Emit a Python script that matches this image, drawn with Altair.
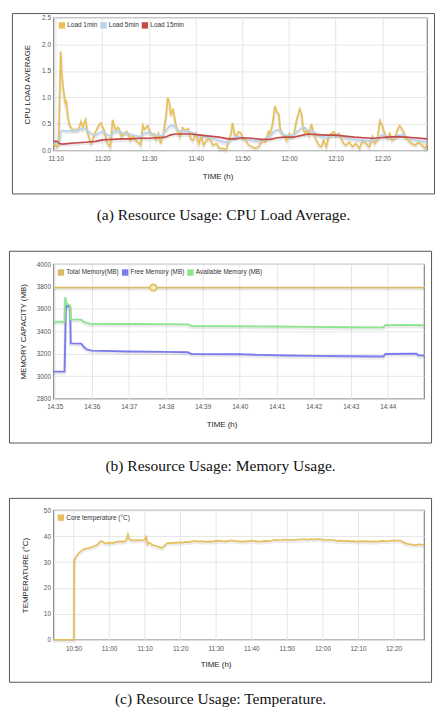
import altair as alt
import pandas as pd

SANS = "Liberation Sans"
SERIF = "Liberation Serif"

# ---------------- (a) CPU load average (minutes after 11:10) ----------------
cpu_series = ["Load 1min", "Load 5min", "Load 15min"]
cpu_colors = ["#e8c15b", "#b9d3ec", "#c44b48"]

load1_t = [-0.45, -0.1, 0.3, 0.6, 0.85, 1.06, 1.3, 1.55, 1.8, 2.05, 2.27, 2.6, 3.0, 3.4, 3.7, 4.2, 4.7,
           5.1, 5.4, 5.8, 6.1, 6.4, 6.9, 7.3, 7.6, 8.0, 8.3, 8.7, 9.0, 9.4, 9.7, 10.0, 10.4, 10.8, 11.1,
           11.7, 12.0, 12.2, 12.5, 12.9, 13.3, 13.6, 14.1, 14.5, 14.8, 15.2, 15.5, 16.0, 16.4, 16.7, 17.1,
           17.5, 17.9, 18.2, 18.5, 18.7, 19.0, 19.2, 19.5, 19.7, 20.0, 20.3, 20.7, 21.0, 21.5, 22.0, 22.5,
           22.8, 23.1, 23.4, 23.7, 24.0, 24.2, 24.4, 24.7, 25.1, 25.4, 25.6, 26.1, 26.6, 26.9, 27.2, 27.7,
           28.1, 28.4, 28.9, 29.4, 30.1, 30.7, 31.2, 31.7, 32.3, 33.0, 33.7, 34.4, 35.1, 35.8, 36.5, 37.1,
           37.6, 37.9, 38.3, 38.6, 39.2, 39.7, 40.0, 40.7, 41.4, 42.1, 42.8, 43.5, 44.2, 44.9, 45.6, 45.9,
           46.5, 47.0, 47.4, 47.8, 48.1, 48.6, 49.2, 49.5, 50.1, 50.6, 51.1, 51.6, 52.3, 52.7, 53.0, 53.4,
           53.9, 54.3, 54.8, 55.3, 55.9, 56.4, 56.9, 57.4, 58.0, 58.6, 59.1, 59.6, 60.1, 60.7, 61.2, 61.7,
           62.2, 62.9, 63.6, 64.3, 65.1, 65.8, 66.5, 67.2, 67.9, 68.4, 68.9, 69.5, 70.0, 70.5, 71.1, 71.6,
           72.1, 72.7, 73.2, 73.7, 74.2, 74.7, 75.1, 75.6, 76.3, 77.1, 77.8, 78.5, 79.2, 79.6]
load1_v = [0.12, 0.10, 0.06, 0.12, 1.00, 1.87, 1.45, 1.20, 1.05, 0.90, 0.95, 0.63, 0.47, 0.42, 0.38, 0.40, 0.38,
           0.45, 0.54, 0.44, 0.52, 0.58, 0.32, 0.20, 0.13, 0.22, 0.32, 0.38, 0.44, 0.50, 0.52, 0.45, 0.38, 0.22, 0.13,
           0.07, 0.35, 0.58, 0.48, 0.38, 0.44, 0.41, 0.26, 0.30, 0.32, 0.36, 0.32, 0.19, 0.27, 0.26, 0.20,
           0.16, 0.14, 0.10, 0.35, 0.47, 0.40, 0.41, 0.45, 0.47, 0.40, 0.35, 0.30, 0.32, 0.21, 0.32, 0.13,
           0.25, 0.32, 0.50, 0.69, 1.00, 0.95, 0.88, 0.66, 0.79, 0.65, 0.54, 0.38, 0.26, 0.35, 0.43, 0.38,
           0.40, 0.41, 0.23, 0.19, 0.32, 0.13, 0.26, 0.10, 0.19, 0.23, 0.10, 0.13, 0.04, 0.04, 0.01, 0.19,
           0.32, 0.52, 0.32, 0.26, 0.35, 0.33, 0.26, 0.19, 0.10, 0.07, 0.04, 0.07, 0.19, 0.16, 0.35, 0.29,
           0.50, 0.84, 0.72, 0.69, 0.41, 0.32, 0.26, 0.19, 0.32, 0.26, 0.32, 0.56, 0.78, 0.69, 0.44, 0.32,
           0.38, 0.29, 0.50, 0.32, 0.19, 0.10, 0.07, 0.19, 0.07, 0.29, 0.32, 0.35, 0.29, 0.32, 0.23, 0.13,
           0.10, 0.16, 0.07, 0.13, 0.04, 0.19, 0.13, 0.07, 0.26, 0.13, 0.19, 0.56, 0.47, 0.32, 0.23, 0.32,
           0.19, 0.23, 0.38, 0.47, 0.41, 0.32, 0.23, 0.19, 0.13, 0.10, 0.16, 0.10, 0.04, 0.13]

load5_t = [-0.45, 0.8, 1.1, 1.5, 2.5, 3.5, 4.5, 5.5, 6.3, 7.0, 8.0, 8.6, 9.5, 10.2, 11.0, 11.8, 12.5, 13.0,
           14.0, 15.0, 16.0, 17.0, 18.2, 19.0, 20.0, 21.0, 22.0, 22.8, 23.5, 24.2, 25.0, 25.8, 26.5, 27.5,
           28.5, 29.5, 30.5, 31.5, 32.5, 33.5, 34.5, 35.5, 36.5, 37.2, 38.0, 39.0, 40.0, 41.0, 42.0, 43.0,
           44.0, 45.0, 46.0, 46.8, 47.5, 48.3, 49.0, 50.0, 51.0, 51.8, 52.6, 53.3, 54.0, 55.0, 56.0, 57.0,
           58.0, 59.0, 60.0, 61.0, 62.0, 63.0, 64.0, 65.0, 66.0, 67.0, 68.0, 69.0, 69.8, 70.5, 71.5, 72.5,
           73.5, 74.3, 75.0, 76.0, 77.0, 78.0, 79.0, 79.6]
load5_v = [0.15, 0.13, 0.36, 0.38, 0.36, 0.38, 0.38, 0.41, 0.42, 0.36, 0.30, 0.29, 0.34, 0.36, 0.30, 0.27, 0.36, 0.38,
           0.34, 0.33, 0.31, 0.28, 0.26, 0.32, 0.34, 0.31, 0.29, 0.28, 0.36, 0.45, 0.48, 0.43, 0.37, 0.37,
           0.36, 0.33, 0.29, 0.27, 0.25, 0.23, 0.20, 0.17, 0.15, 0.17, 0.24, 0.26, 0.25, 0.22, 0.20, 0.18,
           0.18, 0.22, 0.28, 0.36, 0.39, 0.35, 0.30, 0.28, 0.28, 0.36, 0.42, 0.44, 0.38, 0.37, 0.31, 0.26,
           0.24, 0.28, 0.29, 0.29, 0.25, 0.22, 0.21, 0.19, 0.19, 0.18, 0.19, 0.22, 0.29, 0.29, 0.25, 0.24,
           0.29, 0.30, 0.27, 0.22, 0.20, 0.18, 0.16, 0.17]

load15_t = [-0.45, 0.3, 0.8, 1.5, 2.5, 4.0, 5.5, 7.0, 8.5, 10.0, 12.0, 14.0, 16.0, 18.0, 20.0, 22.0, 23.5,
            24.5, 25.5, 27.0, 29.0, 31.0, 33.0, 35.0, 37.0, 38.5, 40.0, 42.0, 44.0, 46.0, 47.5, 49.0, 51.0,
            52.5, 54.0, 56.0, 58.0, 60.0, 62.0, 64.0, 66.0, 68.0, 69.5, 71.0, 73.0, 75.0, 77.0, 79.6]
load15_v = [0.17, 0.17, 0.13, 0.12, 0.13, 0.14, 0.15, 0.16, 0.17, 0.20, 0.21, 0.22, 0.22, 0.23, 0.23, 0.24, 0.25,
            0.29, 0.31, 0.31, 0.31, 0.29, 0.27, 0.25, 0.22, 0.22, 0.24, 0.23, 0.21, 0.21, 0.24, 0.25, 0.25,
            0.28, 0.31, 0.30, 0.29, 0.29, 0.27, 0.25, 0.24, 0.23, 0.24, 0.25, 0.26, 0.25, 0.24, 0.22]

cpu_ticks = [0, 0.5, 1.0, 1.5, 2.0, 2.5]

# ---------------- (b) Memory (minutes after 14:35) ----------------
mem_series = ["Total Memory(MB)", "Free Memory (MB)", "Available Memory (MB)"]
mem_colors = ["#d8bb6a", "#7b7bef", "#8fe48f"]

total_t = [-0.04, 9.98]
total_v = [3790, 3790]

free_t = [-0.04, 0.27, 0.30, 0.33, 0.38, 0.41, 0.43, 0.72, 0.78, 0.86, 1.0, 2.0, 3.0, 3.6, 3.7, 5.0, 5.5,
          6.3, 7.0, 8.0, 8.88, 8.93, 9.5, 9.78, 9.82, 9.98]
free_v = [3040, 3040, 3600, 3628, 3622, 3610, 3292, 3290, 3262, 3238, 3228, 3220, 3217, 3213, 3197, 3196, 3190,
          3184, 3181, 3178, 3175, 3198, 3200, 3200, 3186, 3184]

avail_t = [-0.04, 0.27, 0.29, 0.32, 0.36, 0.41, 0.43, 0.72, 0.80, 0.95, 2.0, 3.0, 3.6, 3.7, 5.0, 6.0, 7.0,
           8.0, 8.88, 8.93, 9.5, 9.98]
avail_v = [3485, 3485, 3705, 3650, 3638, 3630, 3507, 3505, 3482, 3468, 3465, 3464, 3462, 3447, 3445, 3443, 3440,
           3437, 3435, 3456, 3458, 3454]

marker_t = [2.67]
marker_v = [3790]

mem_ticks = [2800, 3000, 3200, 3400, 3600, 3800, 4000]

# ---------------- (c) Temperature (minutes after 10:50) ----------------
temp_series = ["Core temperature (°C)"]
temp_colors = ["#e6c05c"]

temp_t = [-5.65, 0.1, 0.2, 0.5, 0.9, 1.4, 1.9, 2.5, 3.2, 4.0, 4.6, 5.3, 6.0, 6.6, 7.0, 7.4, 7.7, 8.3, 8.8,
          9.3, 10.2, 11.1, 12.0, 13.0, 14.0, 14.7, 15.0, 15.3, 15.6, 15.8, 16.7, 17.6, 18.6, 19.6, 20.1,
          20.4, 20.6, 20.8, 21.3, 21.8, 22.3, 23.0, 23.7, 24.6, 25.1, 25.5, 26.0, 26.4, 27.1, 27.8, 28.7,
          29.7, 30.6, 31.5, 32.4, 33.3, 34.3, 35.2, 36.1, 37.1, 38.0, 39.0, 39.9, 40.8, 41.8, 42.7, 43.6,
          44.5, 45.5, 46.4, 47.3, 48.2, 49.2, 50.1, 51.0, 52.0, 52.9, 53.8, 54.8, 55.7, 56.6, 57.5, 58.4,
          59.4, 60.3, 61.2, 62.2, 63.1, 64.0, 64.9, 65.9, 66.8, 67.7, 68.6, 69.6, 70.5, 71.4, 72.3, 73.3,
          74.2, 75.1, 76.1, 77.0, 77.9, 78.8, 79.8, 80.7, 81.6, 82.5, 83.5, 84.4, 85.3, 86.2, 87.2, 88.1,
          89.1, 90.0, 90.9, 91.8, 92.4, 92.8, 93.5, 94.2, 95.1, 95.8, 96.5, 97.3, 98.0, 98.6]
temp_v = [0, 0, 30.8, 31.5, 32.5, 33.3, 34.0, 34.6, 35.2, 35.3, 35.6, 35.8, 36.3, 36.6, 37.1, 37.8, 38.1, 37.8, 37.3,
          37.2, 37.5, 37.4, 37.8, 38.0, 37.9, 38.2, 39.0, 40.6, 39.2, 38.8, 38.3, 38.5, 38.4, 38.5, 38.6,
          40.2, 38.2, 36.9, 37.6, 37.0, 36.6, 36.3, 36.0, 35.5, 35.7, 36.2, 36.9, 37.3, 37.3, 37.5, 37.4,
          37.6, 37.5, 37.8, 37.7, 38.0, 38.2, 37.9, 38.1, 37.8, 38.0, 37.9, 38.2, 38.3, 38.1, 38.0, 38.2,
          38.4, 38.1, 38.0, 37.9, 38.1, 38.0, 38.3, 38.1, 37.9, 38.0, 38.2, 38.1, 38.3, 38.6, 38.4, 38.5,
          38.7, 38.6, 38.6, 38.5, 38.7, 38.8, 38.8, 38.7, 38.9, 38.7, 38.9, 38.8, 38.6, 38.5, 38.6, 38.4,
          38.2, 38.3, 38.1, 38.2, 38.0, 38.1, 37.9, 38.1, 38.0, 38.1, 37.9, 38.0, 37.9, 38.1, 38.2, 38.0,
          38.2, 38.4, 38.3, 38.4, 38.0, 37.5, 37.2, 36.9, 36.8, 36.5, 36.6, 36.9, 36.6, 36.8]

temp_ticks = [0, 10, 20, 30, 40, 50]

captions = ["(a) Resource Usage: CPU Load Average.",
            "(b) Resource Usage: Memory Usage.",
            "(c) Resource Usage: Temperature."]


# ---------------- helpers ----------------
def stamps(base, minutes):
    b = pd.Timestamp(base)
    return [(b + pd.Timedelta(seconds=round(m * 60))).strftime("%Y-%m-%dT%H:%M:%S") for m in minutes]


def frame_df(base, names, colors, ts, vs):
    parts = []
    for n, c, t, v in zip(names, colors, ts, vs):
        parts.append(pd.DataFrame({"time": stamps(base, t), "value": v, "series": n, "hex": c}))
    return pd.concat(parts, ignore_index=True)


def dt(h, m, s=0):
    return alt.DateTime(year=2020, month=1, date=1, hours=h, minutes=m, seconds=s)


ONE = alt.Data(values=[{"k": 1}])


def decorations(frame, box, cap_xy, caption):
    fr = alt.Chart(ONE).mark_rect(fill="white", opacity=0).encode(
        x=alt.value(frame[0]), x2=alt.value(frame[1]), y=alt.value(frame[2]), y2=alt.value(frame[3]))
    bx = alt.Chart(ONE).mark_rect(fillOpacity=0, stroke="#555555", strokeWidth=1).encode(
        x=alt.value(box[0]), x2=alt.value(box[1]), y=alt.value(box[2]), y2=alt.value(box[3]))
    cp = alt.Chart(ONE).mark_text(font=SERIF, fontSize=15.7, color="#111111", align="center",
                                  baseline="middle").encode(
        x=alt.value(cap_xy[0]), y=alt.value(cap_xy[1]), text=alt.value(caption))
    return [fr, bx, cp]


def legend(lx, ly):
    return alt.Legend(title=None, orient="none", legendX=lx, legendY=ly, direction="horizontal",
                      symbolType="square", symbolSize=42, symbolStrokeWidth=0, symbolOpacity=1,
                      labelFont=SANS, labelFontSize=6.5, labelColor="#333333", labelOffset=2,
                      columnPadding=2, padding=0)


def xaxis(values, tx, ty, pad):
    return alt.Axis(values=values, format="%H:%M", title="TIME (h)", titleX=tx, titleY=ty,
                    titleBaseline="middle", labelPadding=pad, labelFlush=False, labelOverlap=False)


def yaxis(values, fmt, title, tx, ty):
    return alt.Axis(values=values, format=fmt, title=title, titleX=tx, titleY=ty,
                    titleBaseline="middle", labelPadding=3, labelOverlap=False)


def series_lines(df, xenc, yenc, names, colors, lg, width):
    shadow = alt.Chart(df).mark_line(color="black", opacity=0.08, yOffset=1.5).encode(
        x=xenc, y=yenc, detail="series:N", strokeWidth=alt.value(width + 1.5))
    # each line takes its colour straight from the table (no scale, so no legend here)
    main = alt.Chart(df).mark_line().encode(
        x=xenc, y=yenc, detail="series:N",
        color=alt.Color("hex:N", scale=None),
        strokeWidth=alt.value(width))
    # zero-size filled squares: they only supply the filled colour swatches of the legend
    key = alt.Chart(alt.Data(values=[{"series": n} for n in names])).mark_square(size=0).encode(
        fill=alt.Fill("series:N", scale=alt.Scale(domain=names, range=colors), legend=lg))
    return [shadow, main, key]


# ---------------- chart (a) ----------------
cpu_df = frame_df("2020-01-01 11:10:00", cpu_series, cpu_colors, [load1_t, load5_t, load15_t],
                  [load1_v, load5_v, load15_v])
cx = alt.X("time:T", scale=alt.Scale(domain=[dt(11, 9, 31), dt(12, 29, 36)], nice=False),
           axis=xaxis([dt(11, 10), dt(11, 20), dt(11, 30), dt(11, 40), dt(11, 50), dt(12, 0),
                       dt(12, 10), dt(12, 20)], 166, 26, 5))
cy = alt.Y("value:Q", scale=alt.Scale(domain=[0, 2.5], nice=False),
           axis=yaxis(cpu_ticks, ".1f", "CPU LOAD AVERAGE", -26, 67))
chart_a = alt.layer(
    *decorations((-42, 386, -5, 216), (-41.5, 385.5, -4.5, 178), (172, 199), captions[0]),
    *series_lines(cpu_df, cx, cy, cpu_series, cpu_colors, legend(5, 4), 1.7),
).properties(width=378, height=134)

# ---------------- chart (b) ----------------
mem_df = frame_df("2020-01-01 14:35:00", mem_series, mem_colors, [total_t, free_t, avail_t],
                  [total_v, free_v, avail_v])
mark_df = pd.DataFrame({"time": stamps("2020-01-01 14:35:00", marker_t), "value": marker_v})
mx = alt.X("time:T", scale=alt.Scale(domain=[dt(14, 34, 58), dt(14, 44, 59)], nice=False),
           axis=xaxis([dt(14, m) for m in range(35, 45)], 170, 26, 5))
my = alt.Y("value:Q", scale=alt.Scale(domain=[2800, 4000], nice=False),
           axis=yaxis(mem_ticks, "d", "MEMORY CAPACITY (MB)", -30, 68))
marker = alt.Chart(mark_df).mark_point(shape="circle", filled=True, fill="#f6ebc8", stroke="#e0c25e",
                                       strokeWidth=1.8, size=45, opacity=1).encode(x=mx, y=my)
chart_b = alt.layer(
    *decorations((-45, 383, -31, 218), (-44.5, 382.5, -13, 181), (169, 204), captions[1]),
    *series_lines(mem_df, mx, my, mem_series, mem_colors, legend(4, 5), 1.9),
    marker,
).properties(width=375, height=136)

# ---------------- chart (c) ----------------
temp_df = frame_df("2020-01-01 10:50:00", temp_series, temp_colors, [temp_t], [temp_v])
tx = alt.X("time:T", scale=alt.Scale(domain=[dt(10, 44, 21), dt(12, 28, 36)], nice=False),
           axis=xaxis([dt(10, 50), dt(11, 0), dt(11, 10), dt(11, 20), dt(11, 30), dt(11, 40),
                       dt(11, 50), dt(12, 0), dt(12, 10), dt(12, 20)], 164, 25, 6))
ty = alt.Y("value:Q", scale=alt.Scale(domain=[0, 50], nice=False),
           axis=yaxis(temp_ticks, "d", "TEMPERATURE (°C)", -28, 65.5))
chart_c = alt.layer(
    *decorations((-45, 383, -29, 198), (-44.5, 382.5, -12, 174), (169, 191.5), captions[2]),
    *series_lines(temp_df, tx, ty, temp_series, temp_colors, legend(4, 4), 1.7),
).properties(width=375, height=131)

chart = alt.vconcat(chart_a, chart_b, chart_c, spacing=0).resolve_scale(
    x="independent", y="independent", fill="independent"
).resolve_legend(fill="independent").configure(
    padding=0, background="white"
).configure_view(
    stroke="#8e8e8e", strokeWidth=1.3
).configure_axis(
    labelFont=SANS, labelFontSize=6.5, labelColor="#555555",
    titleFont=SANS, titleFontSize=8, titleColor="#222222", titleFontWeight="normal",
    gridColor="#e6e6e6", gridWidth=1, domain=False, ticks=False,
)

chart.save("out.html", embed_options={"renderer": "svg", "actions": False})
